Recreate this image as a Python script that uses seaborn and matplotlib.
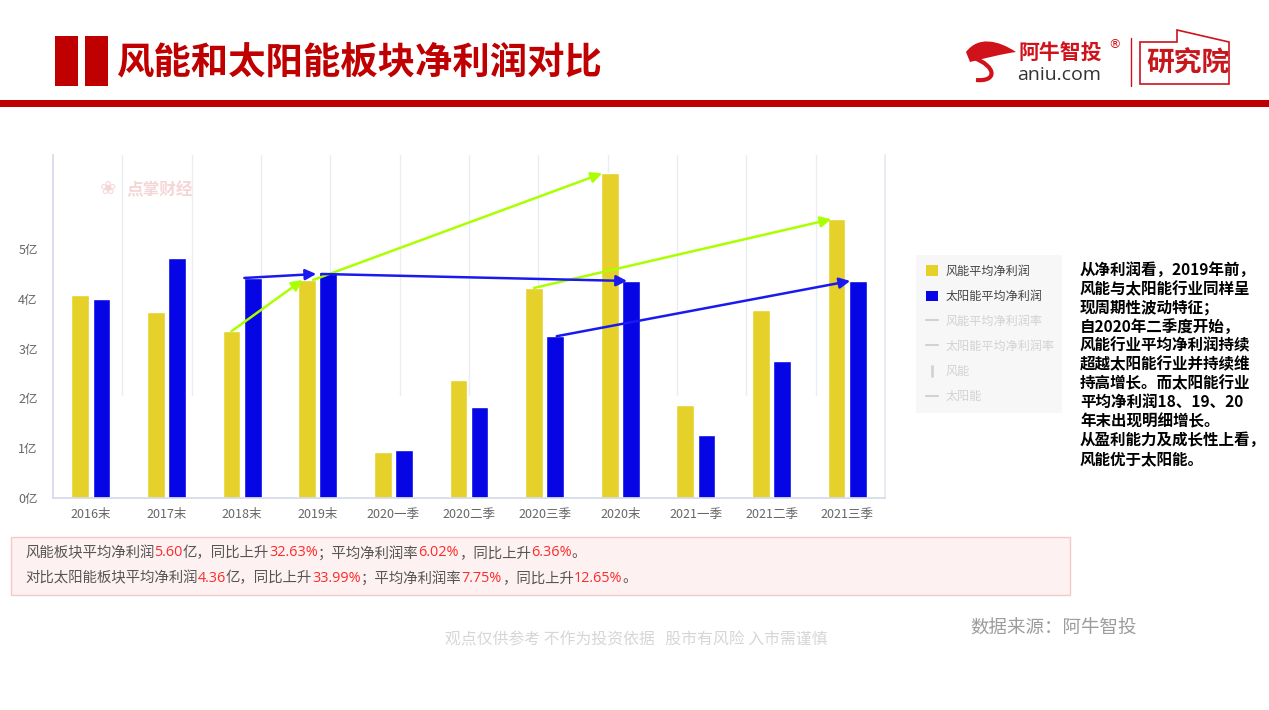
import numpy as np
import pandas as pd
import matplotlib
matplotlib.use("Agg")
import matplotlib.pyplot as plt
import seaborn as sns
from matplotlib.patches import Rectangle, Patch, PathPatch, Polygon
from matplotlib.lines import Line2D
from matplotlib.path import Path

# ---------------- data ----------------
categories = ["2016末", "2017末", "2018末", "2019末", "2020一季", "2020二季",
              "2020三季", "2020末", "2021一季", "2021二季", "2021三季"]
wind = [4.08, 3.73, 3.35, 4.38, 0.92, 2.37, 4.22, 6.52, 1.86, 3.78, 5.60]
solar = [3.99, 4.83, 4.42, 4.53, 0.96, 1.83, 3.25, 4.36, 1.26, 2.76, 4.36]
series_names = ["风能平均净利润", "太阳能平均净利润"]
ytick_values = [0, 1, 2, 3, 4, 5]
ytick_labels = [f"{v}亿" for v in ytick_values]
legend_extra = ["风能平均净利润率", "太阳能平均净利润率", "风能", "太阳能"]

title = "风能和太阳能板块净利润对比"
note_lines = ["从净利润看，2019年前，", "风能与太阳能行业同样呈", "现周期性波动特征；",
              "自2020年二季度开始，", "风能行业平均净利润持续", "超越太阳能行业并持续维",
              "持高增长。而太阳能行业", "平均净利润18、19、20", "年末出现明细增长。",
              "从盈利能力及成长性上看，", "风能优于太阳能。"]
GRAY_T, RED_T = "#555555", "#ff2a2a"
summary_1 = [("风能板块平均净利润", GRAY_T), ("5.60", RED_T), ("亿，同比上升", GRAY_T),
             ("32.63%", RED_T), ("；平均净利润率", GRAY_T), ("6.02%", RED_T),
             ("，同比上升", GRAY_T), ("6.36%", RED_T), ("。", GRAY_T)]
summary_2 = [("对比太阳能板块平均净利润", GRAY_T), ("4.36", RED_T), ("亿，同比上升", GRAY_T),
             ("33.99%", RED_T), ("；平均净利润率", GRAY_T), ("7.75%", RED_T),
             ("，同比上升", GRAY_T), ("12.65%", RED_T), ("。", GRAY_T)]

YELLOW = "#e6d12a"
BLUE = "#0505e6"
GREEN_ARR = "#aaff00"
BLUE_ARR = "#1a1af0"
RED = "#c00000"

# ---------------- setup ----------------
sns.set_theme(style="white")
plt.rcParams["font.family"] = ["Noto Sans CJK SC", "DejaVu Sans"]

W, H = 1269, 710
fig = plt.figure(figsize=(W / 100, H / 100), dpi=100)
fig.patch.set_facecolor("white")


def fx(x):
    return x / W


def fy(y):
    return 1 - y / H


# ---------------- header ----------------
for x0 in (55, 85):
    fig.patches.append(Rectangle((fx(x0), fy(86)), 23 / W, 50 / H, transform=fig.transFigure,
                                 facecolor=RED, edgecolor="none"))
fig.patches.append(Rectangle((0, fy(107)), 1, 7 / H, transform=fig.transFigure,
                             facecolor=RED, edgecolor="none"))
fig.text(fx(117), fy(62), title, fontsize=26.9, fontweight="bold", color=RED,
         va="center", ha="left")

# logo
def pix_path(verts, codes):
    return Path([(fx(x), fy(y)) for x, y in verts], codes)

head = pix_path([(966, 52), (978, 36), (998, 40), (1016, 52), (1002, 54), (986, 58), (970, 62), (966, 52)],
                [Path.MOVETO, Path.CURVE4, Path.CURVE4, Path.CURVE4, Path.CURVE4, Path.CURVE4, Path.CURVE4,
                 Path.CLOSEPOLY])
fig.patches.append(PathPatch(head, transform=fig.transFigure, facecolor="#d0121b", edgecolor="none"))
tail = pix_path([(974, 58), (996, 66), (998, 82), (976, 80)],
                [Path.MOVETO, Path.CURVE4, Path.CURVE4, Path.CURVE4])
fig.patches.append(PathPatch(tail, transform=fig.transFigure, facecolor="none",
                             edgecolor="#d0121b", lw=3))
fig.text(fx(1018), fy(53), "阿牛智投", fontsize=15, fontweight="bold", color="#d0121b",
         va="center", ha="left")
fig.text(fx(1108), fy(45), "®", fontsize=9, color="#d0121b", va="center", ha="left",
         family="DejaVu Sans")
fig.text(fx(1017), fy(75), "aniu.com", fontsize=14, color="#333333", va="center", ha="left",
         family="Open Sans")
fig.lines.append(Line2D([fx(1131), fx(1131)], [fy(38), fy(86)], transform=fig.transFigure,
                        color="#d0121b", lw=1))
box_pts = [(1140, 42), (1177, 42), (1177, 30), (1229, 42), (1229, 84), (1140, 84)]
fig.patches.append(Polygon([(fx(x), fy(y)) for x, y in box_pts], closed=True,
                           transform=fig.transFigure, facecolor="none", edgecolor="#d0121b", lw=1.2))
fig.text(fx(1146), fy(64), "研究院", fontsize=20, fontweight="bold", color="#c8161d",
         va="center", ha="left")

# ---------------- chart ----------------
ax = fig.add_axes([fx(53), fy(498), fx(885) - fx(53), (498 - 155) / H])
df = pd.DataFrame({
    "cat": categories * 2,
    "series": [series_names[0]] * len(categories) + [series_names[1]] * len(categories),
    "val": wind + solar,
})
sns.barplot(data=df, x="cat", y="val", hue="series", order=categories, hue_order=series_names,
            palette=[YELLOW, BLUE], saturation=1, width=0.56, gap=0.16, legend=False, ax=ax,
            zorder=2)
ax.set_xlim(-0.5, len(categories) - 0.5)
ax.set_ylim(0, 6.89)
ax.set_yticks(ytick_values)
ax.set_yticklabels(ytick_labels)
ax.set_xlabel("")
ax.set_ylabel("")
ax.tick_params(axis="both", length=0, labelsize=9, labelcolor="#666666")
ax.tick_params(axis="x", pad=7)
ax.tick_params(axis="y", pad=11)
ax.spines["top"].set_visible(False)
ax.spines["left"].set_color("#d5dbe8")
ax.spines["bottom"].set_color("#d5dbe8")
ax.spines["right"].set_color("#e6eaf1")
for gx in np.linspace(-0.5, len(categories) - 0.5, 13)[1:-1]:
    ax.axvline(gx, ymin=0.30, ymax=1, color="#e9edf4", lw=1, zorder=0)

# watermark
fig.text(fx(126), fy(190), "点掌财经", fontsize=12, fontweight="bold", color="#f5d6d6",
         va="center", ha="left")
fig.text(fx(100), fy(189), "❀", fontsize=14, color="#f5d6d6", va="center", ha="left",
         family="DejaVu Sans")

# arrows
idx = {c: i for i, c in enumerate(categories)}


def arrow(x0, y0, x1, y1, color):
    ax.annotate("", xy=(x1, y1), xytext=(x0, y0),
                arrowprops=dict(arrowstyle="-|>", color=color, lw=1.8, mutation_scale=16,
                                shrinkA=0, shrinkB=0), zorder=5)


i18, i19, i20q3, i20, i21q3 = idx["2018末"], idx["2019末"], idx["2020三季"], idx["2020末"], idx["2021三季"]
arrow(i18 - 0.14, wind[i18], i19 - 0.2, wind[i19], GREEN_ARR)
arrow(i19 - 0.06, wind[i19], i20 - 0.24, wind[i20], GREEN_ARR)
arrow(i20q3 - 0.14, wind[i20q3], i21q3 - 0.21, wind[i21q3], GREEN_ARR)
arrow(i18 + 0.03, solar[i18], i19 - 0.02, solar[i19] - 0.03, BLUE_ARR)
arrow(i19 + 0.05, solar[i19] - 0.03, i20 + 0.09, solar[i20], BLUE_ARR)
arrow(i20q3 + 0.16, solar[i20q3], i21q3 + 0.04, solar[i21q3], BLUE_ARR)

# ---------------- legend ----------------
fig.patches.append(Rectangle((fx(916), fy(413)), (1062 - 916) / W, (413 - 255) / H,
                             transform=fig.transFigure, facecolor="#f7f7f7", edgecolor="none"))
LG = "#d2d2d2"
handles = [Patch(facecolor=YELLOW, edgecolor="none"), Patch(facecolor=BLUE, edgecolor="none"),
           Line2D([], [], color=LG, lw=1.5), Line2D([], [], color=LG, lw=1.5),
           Line2D([], [], color=LG, lw=0, marker="|", markersize=9, markeredgewidth=2),
           Line2D([], [], color=LG, lw=1.5)]
labels = series_names + legend_extra
fig.legend(handles, labels, loc="upper left", bbox_to_anchor=(fx(926), fy(265)),
           frameon=False, fontsize=8.7, handlelength=1.0, handleheight=1.0,
           labelspacing=1.0, handletextpad=0.6, borderpad=0, borderaxespad=0,
           labelcolor=["#444444", "#444444", LG, LG, LG, LG])

# ---------------- right note ----------------
for i, line in enumerate(note_lines):
    fig.text(fx(1080), fy(270 + i * 18.9), line, fontsize=11.2, fontweight="bold",
             color="black", va="center", ha="left")

# ---------------- summary box ----------------
fig.patches.append(Rectangle((fx(11), fy(595)), (1070 - 11) / W, (595 - 537) / H,
                             transform=fig.transFigure, facecolor="#fdf1f1",
                             edgecolor="#f6c9c9", lw=1))
renderer = fig.canvas.get_renderer()


def rich(x_px, y_px, segs, size):
    x = x_px
    for s, c in segs:
        fam = ["Open Sans", "Noto Sans CJK SC"] if c == RED_T else ["Noto Sans CJK SC", "DejaVu Sans"]
        t = fig.text(fx(x), fy(y_px), s, color=c, fontsize=size, va="center", ha="left",
                     family=fam)
        x += t.get_window_extent(renderer).width


rich(25, 553, summary_1, 10.4)
rich(25, 578, summary_2, 10.4)

# ---------------- footer ----------------
fig.text(fx(636), fy(640), "观点仅供参考 不作为投资依据   股市有风险 入市需谨慎", fontsize=11.4,
         color="#d6d6d6", va="center", ha="center")
fig.text(fx(970), fy(629), "数据来源：阿牛智投", fontsize=13.3, color="#9c9c9c",
         va="center", ha="left")

fig.savefig("out.png", dpi=100, facecolor="white")
